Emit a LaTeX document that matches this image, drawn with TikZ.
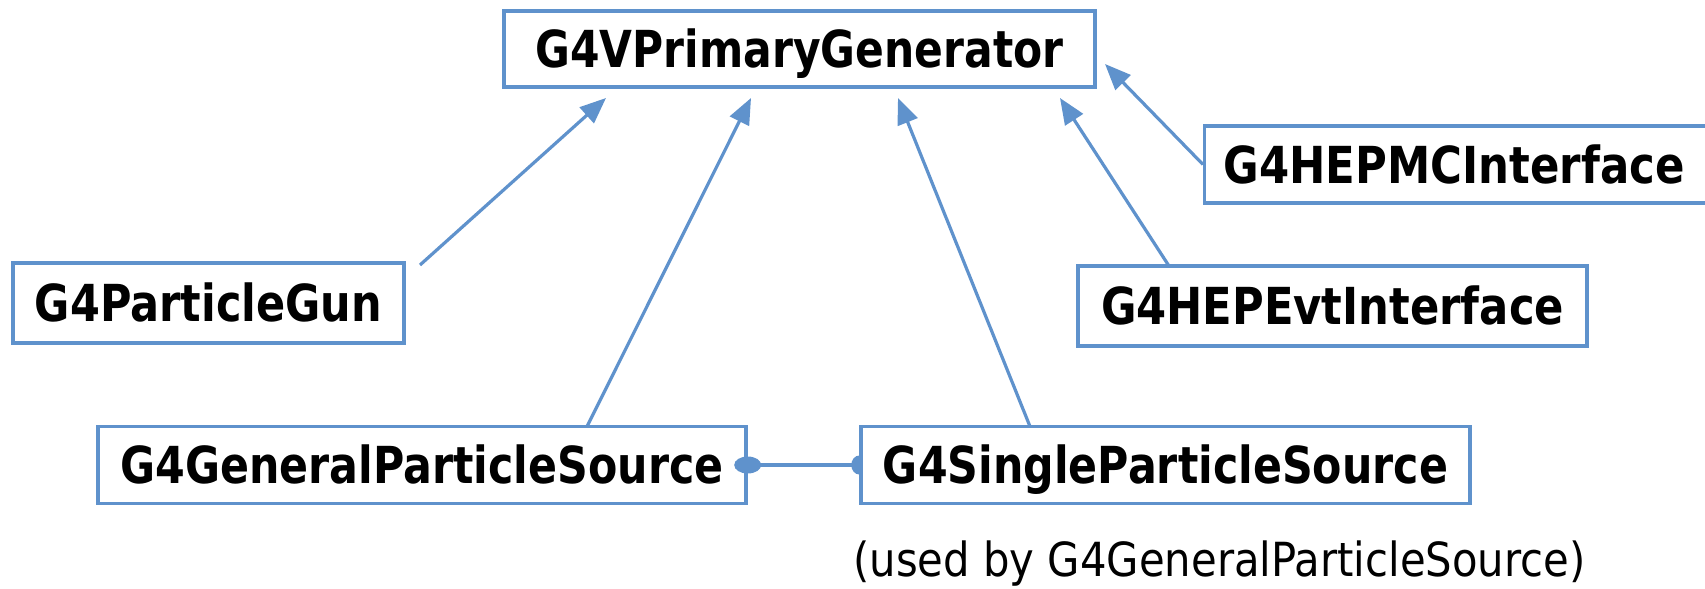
\documentclass[tikz,border=0pt]{standalone}
\usepackage{fontspec}
\setmainfont{DejaVu Sans}
\usetikzlibrary{arrows.meta}
\newdimen\pxu \pxu=0.5pt
\definecolor{umlblue}{RGB}{95,146,204}
\newcommand{\clsname}[2]{\resizebox{#1\pxu}{\height}{\fontsize{25.5}{28}\selectfont\bfseries #2}}
\tikzset{
  clsbox/.style={draw=umlblue, line width=1.7pt, fill=white, inner sep=0pt,
    text height=18.6pt, text depth=0pt},
  gen/.style={draw=umlblue, line width=1.6pt, -{Triangle[length=13pt,width=10.5pt]}},
  assoc/.style={draw=umlblue, line width=1.7pt},
}
\begin{document}
\begin{tikzpicture}[x=0.5pt,y=-0.5pt]
\useasboundingbox (0,0) rectangle (1705,589);
\node[clsbox, minimum width=591\pxu, minimum height=76\pxu] (vpg) at (799.5,49) {\clsname{528}{G4VPrimaryGenerator}};
\node[clsbox, anchor=west, inner xsep=19\pxu, text width=498\pxu, align=left, minimum height=77\pxu] (hepmc) at (1203,164.5) {\clsname{461}{G4HEPMCInterface}};
\node[clsbox, minimum width=391\pxu, minimum height=80\pxu] (pgun) at (208.5,303) {\clsname{347}{G4ParticleGun}};
\node[clsbox, minimum width=509\pxu, minimum height=80\pxu] (hepevt) at (1332.5,306) {\clsname{463}{G4HEPEvtInterface}};
\node[clsbox, minimum width=648\pxu, minimum height=77\pxu] (gps) at (422,465) {\clsname{603}{G4GeneralParticleSource}};
\node[clsbox, minimum width=609\pxu, minimum height=77\pxu] (sps) at (1165.5,465) {\clsname{565}{G4SingleParticleSource}};
\node[anchor=base west, inner sep=0pt] (note) at (853,576) {\resizebox{732\pxu}{\height}{\fontsize{23.5}{27}\selectfont (used by G4GeneralParticleSource)}};

\coordinate (s1) at (420,265);  \coordinate (t1) at (606,98);
\coordinate (s2) at (587,426.5); \coordinate (t2) at (751,98);
\coordinate (s3) at (1030,426.5); \coordinate (t3) at (898,98);
\coordinate (s4) at (1169,266); \coordinate (t4) at (1060,98);
\coordinate (t5) at (1105,64);

\draw[gen] (s1) -- (t1);
\draw[gen] (s2) -- (t2);
\draw[gen] (s3) -- (t3);
\draw[gen] (s4) -- (t4);
\draw[gen] (hepmc.west) -- (t5);

\draw[assoc] (gps.east) -- (sps.west);
\fill[umlblue] (gps.east) ellipse [x radius=13.5\pxu, y radius=8.5\pxu];
\fill[umlblue] (sps.west) ++(0pt,4.75pt) arc[start angle=90, end angle=270, x radius=8\pxu, y radius=9.5\pxu] -- cycle;
\end{tikzpicture}
\end{document}
